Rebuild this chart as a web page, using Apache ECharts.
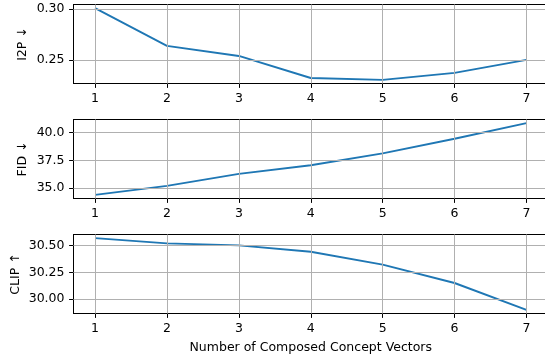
<!DOCTYPE html>
<html>
<head>
<meta charset="utf-8">
<script src="https://cdn.jsdelivr.net/npm/echarts@6/dist/echarts.min.js"></script>
<style>
html,body{margin:0;padding:0;background:#fff;}
#chart{width:545px;height:358px;}
</style>
</head>
<body>
<div id="chart"></div>
<script>
// Data
const xValues = [1, 2, 3, 4, 5, 6, 7];
const i2pValues = [0.301, 0.2638, 0.2539, 0.2322, 0.2303, 0.2372, 0.2500];
const fidValues = [34.40, 35.21, 36.29, 37.07, 38.14, 39.46, 40.87];
const clipValues = [30.568, 30.519, 30.500, 30.441, 30.321, 30.151, 29.901];
const xTicks = [1, 2, 3, 4, 5, 6, 7];
const i2pTicks = [0.25, 0.30];
const fidTicks = [35.0, 37.5, 40.0];
const clipTicks = [30.00, 30.25, 30.50];
const names = ['I2P ↓', 'FID ↓', 'CLIP ↑'];
const xLabel = 'Number of Composed Concept Vectors';

const FONT = 'DejaVu Sans';
const FS = 12.5;

function ext(arr) {
  const mn = Math.min(...arr), mx = Math.max(...arr), r = mx - mn;
  return [mn - 0.05 * r, mx + 0.05 * r];
}
const xr = ext(xValues);

const panels = [
  {vals: i2pValues, ticks: i2pTicks, dec: 2, top: 4.5, gap: 44},
  {vals: fidValues, ticks: fidTicks, dec: 1, top: 119.5, gap: 44},
  {vals: clipValues, ticks: clipTicks, dec: 2, top: 234.5, gap: 51}
];
const H = 79;
const grids = [], xAxes = [], yAxes = [], series = [];
panels.forEach((p, i) => {
  grids.push({left: 73.5, width: 474.5, top: p.top, height: H, show: false,
    outerBoundsMode: 'none', containLabel: false});
  xAxes.push({
    type: 'value', gridIndex: i, min: xr[0], max: xr[1], position: 'bottom',
    axisLine: {show: true, onZero: false, lineStyle: {color: '#000', width: 1}},
    axisTick: {show: true, length: 4.4, customValues: xTicks, lineStyle: {color: '#000', width: 1}},
    axisLabel: {customValues: xTicks, margin: 9, color: '#000', fontFamily: FONT, fontSize: FS,
      formatter: v => String(v)},
    splitLine: {show: false},
    name: i === 2 ? xLabel : '', nameLocation: 'middle', nameGap: 28, nameMoveOverlap: false,
    nameTextStyle: {color: '#000', fontFamily: FONT, fontSize: FS}
  });
  const ye = ext(p.vals);
  yAxes.push({
    type: 'value', gridIndex: i, min: ye[0], max: ye[1],
    axisLine: {show: true, onZero: false, lineStyle: {color: '#000', width: 1}},
    axisTick: {show: true, length: 4.4, customValues: p.ticks, lineStyle: {color: '#000', width: 1}},
    axisLabel: {customValues: p.ticks, margin: 9, color: '#000', fontFamily: FONT, fontSize: FS,
      formatter: v => Number(v).toFixed(p.dec)},
    splitLine: {show: false},
    name: names[i], nameLocation: 'middle', nameGap: p.gap, nameRotate: 90, nameMoveOverlap: false,
    nameTextStyle: {color: '#000', fontFamily: FONT, fontSize: FS}
  });
  // grid lines (drawn beneath the data line)
  series.push({
    type: 'line', xAxisIndex: i, yAxisIndex: i, data: [], z: 1, silent: true,
    markLine: {
      silent: true, symbol: ['none', 'none'], label: {show: false}, animation: false,
      lineStyle: {color: '#b0b0b0', width: 1, type: 'solid'},
      emphasis: {disabled: true},
      data: xTicks.map(v => ({xAxis: v})).concat(p.ticks.map(v => ({yAxis: v})))
    }
  });
  series.push({
    type: 'line', xAxisIndex: i, yAxisIndex: i, z: 3,
    data: xValues.map((x, k) => [x, p.vals[k]]),
    showSymbol: false, symbol: 'none',
    lineStyle: {color: '#1f77b4', width: 1.9}, animation: false
  });
});
// top spines
panels.forEach((p, i) => {
  xAxes.push({
    type: 'value', gridIndex: i, min: xr[0], max: xr[1], position: 'top',
    axisLine: {show: true, onZero: false, lineStyle: {color: '#000', width: 1}},
    axisTick: {show: false}, axisLabel: {show: false}, splitLine: {show: false}
  });
});

const chart = echarts.init(document.getElementById('chart'), null, {renderer: 'canvas'});
chart.setOption({animation: false, grid: grids, xAxis: xAxes, yAxis: yAxes, series: series});
</script>
</body>
</html>
